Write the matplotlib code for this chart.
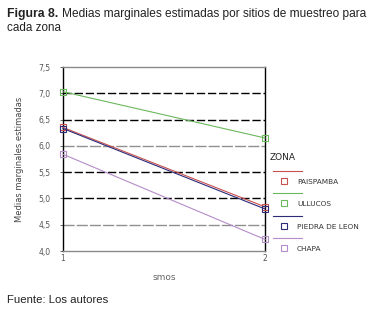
import matplotlib
matplotlib.use("Agg")
import matplotlib.pyplot as plt
from matplotlib.lines import Line2D

# data
sites = [1, 2]
zones = ["PAISPAMBA", "ULLUCOS", "PIEDRA DE LEON", "CHAPA"]
paispamba = [6.35, 4.84]
ullucos = [7.03, 6.15]
piedra = [6.33, 4.80]
chapa = [5.84, 4.22]
yticks = [4.0, 4.5, 5.0, 5.5, 6.0, 6.5, 7.0, 7.5]
ytick_labels = ["4,0", "4,5", "5,0", "5,5", "6,0", "6,5", "7,0", "7,5"]

colors = ["#c8504e", "#6cb85c", "#2c2c78", "#b48cc8"]
series = [paispamba, ullucos, piedra, chapa]

W, H = 374, 317
fig = plt.figure(figsize=(W / 100, H / 100), dpi=100)
ax = fig.add_axes([63 / W, 1 - 251 / H, (265 - 63) / W, (251 - 67) / H])

sans = ["Liberation Sans", "DejaVu Sans"]

# horizontal reference lines
for v in yticks:
    if v in (5.0, 5.5, 6.5, 7.0):
        ax.axhline(v, color="black", lw=1.0, ls=(0, (6, 2)), zorder=1)
    elif v in (4.5, 6.0):
        ax.axhline(v, color="#909090", lw=1.0, ls=(0, (8, 1.5)), zorder=1)

for vals, c in zip(series, colors):
    ax.plot(sites, vals, color=c, lw=0.8, marker="s", ms=4.5,
            mfc="none", mec=c, mew=0.8, zorder=3, clip_on=False)

ax.set_xlim(1, 2)
ax.set_ylim(4.0, 7.5)
ax.set_xticks(sites)
ax.set_xticklabels(["1", "2"])
ax.set_yticks(yticks)
ax.set_yticklabels(ytick_labels)
ax.tick_params(axis="both", labelsize=5.5, colors="#555555", length=2, width=0.6, pad=7)
ax.tick_params(axis="x", length=0, pad=2)
for s in ["left", "right"]:
    ax.spines[s].set_color("black")
    ax.spines[s].set_linewidth(1.0)
for s in ["top", "bottom"]:
    ax.spines[s].set_color("#8a8a8a")
    ax.spines[s].set_linewidth(1.0)

ax.set_xlabel("smos", fontsize=6.5, color="#666666", labelpad=7)
ax.set_ylabel("Medias marginales estimadas", fontsize=6, color="#444444", labelpad=10)

# legend
fig.text(270 / W, 1 - 158 / H, "ZONA", fontsize=6.5, color="#222222", va="center", ha="left")
for i, (z, c) in enumerate(zip(zones, colors)):
    yl = 171 + i * 22.3
    fig.add_artist(Line2D([273 / W, 302 / W], [1 - yl / H, 1 - yl / H], color=c, lw=0.8,
                          transform=fig.transFigure))
    fig.add_artist(Line2D([284 / W], [1 - (yl + 10) / H], color=c, marker="s", ms=4.5,
                          mfc="none", mew=0.8, transform=fig.transFigure))
    fig.text(297 / W, 1 - (yl + 11) / H, z, fontsize=5.3, color="#333333", va="center", ha="left")

# caption
fig.text(7 / W, 1 - 14 / H, "Figura 8.", fontsize=8.8, fontweight="bold", family=sans,
         va="center", ha="left", color="#222222")
fig.text(62 / W, 1 - 14 / H, "Medias marginales estimadas por sitios de muestreo para",
         fontsize=8.6, family=sans, va="center", ha="left", color="#222222")
fig.text(7 / W, 1 - 28 / H, "cada zona", fontsize=8.4, family=sans, va="center", ha="left",
         color="#222222")
fig.text(7 / W, 1 - 300 / H, "Fuente: Los autores", fontsize=8.2, family=sans, va="center",
         ha="left", color="#222222")

fig.savefig("out.png", dpi=100, facecolor="white")
